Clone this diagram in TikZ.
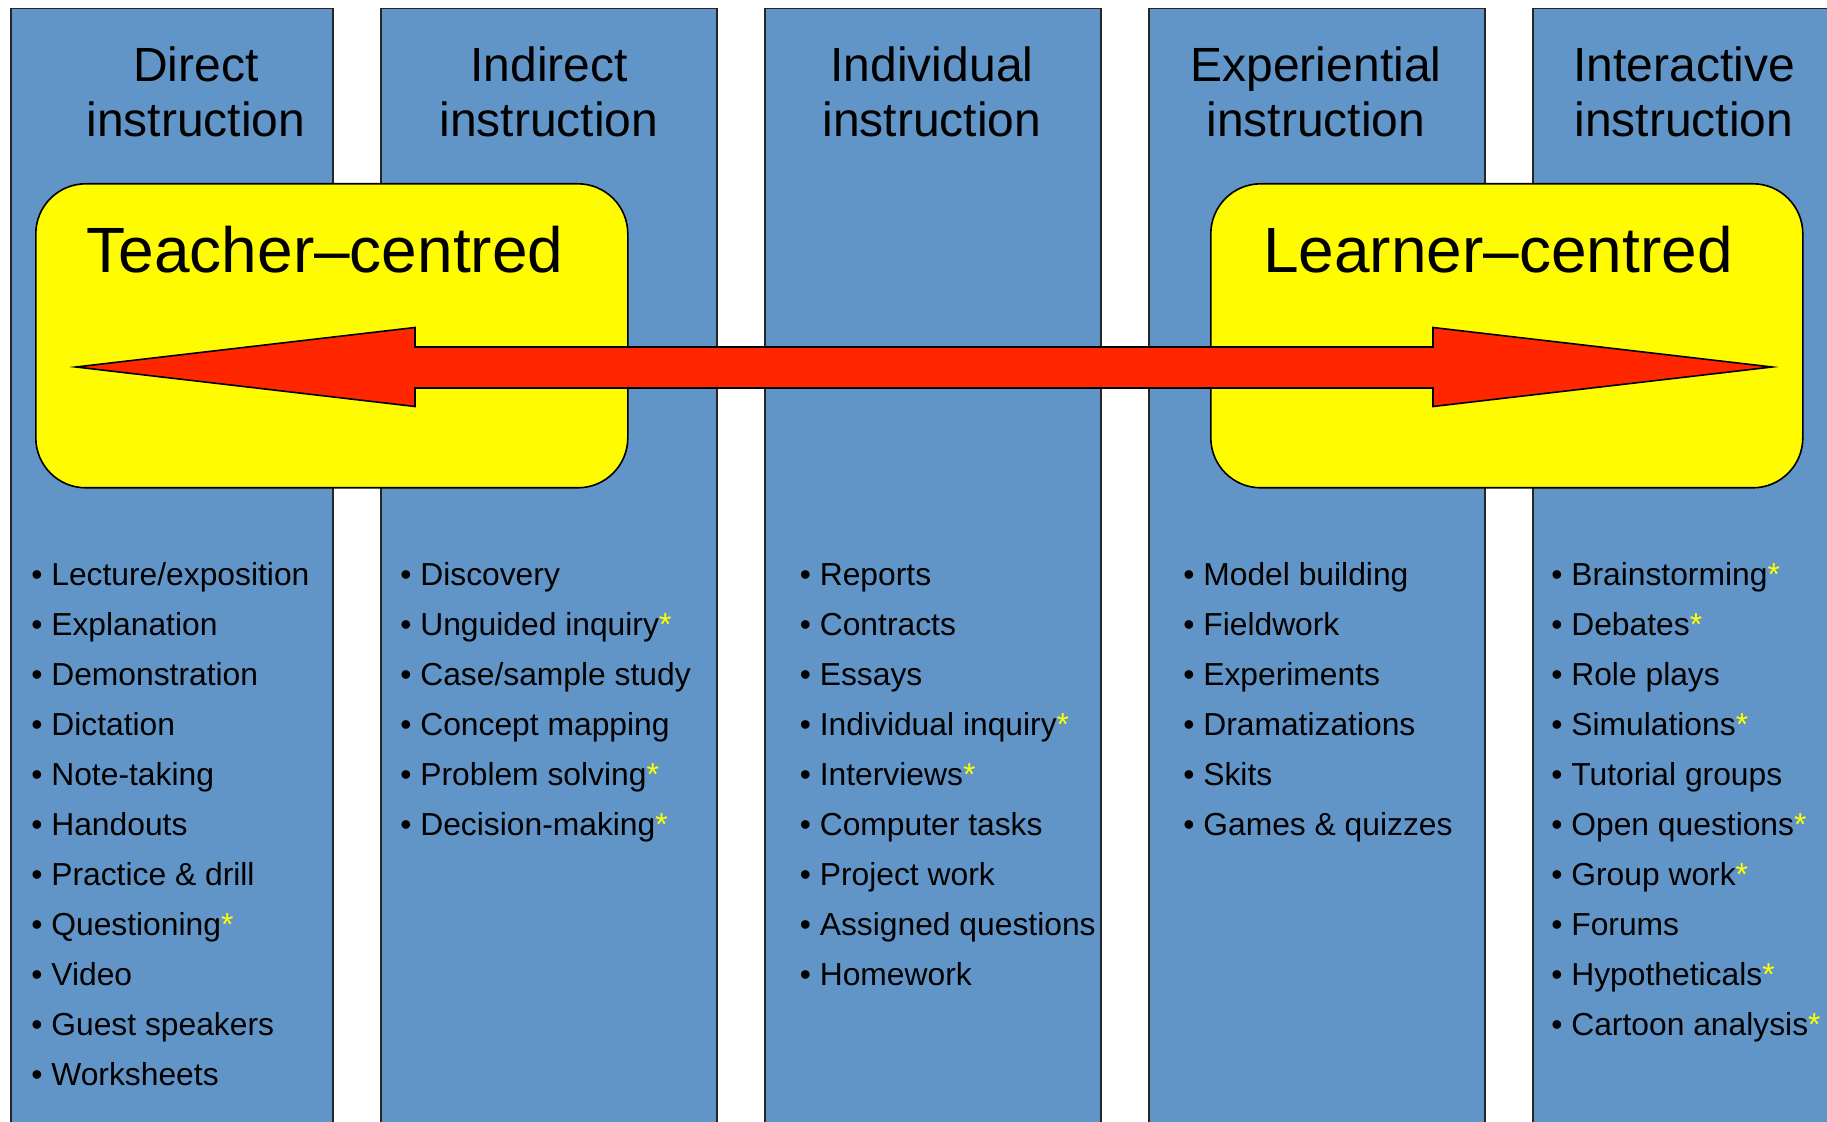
\documentclass[tikz,border=0pt]{standalone}
\usepackage{fontspec}
\setmainfont{Liberation Sans}
\usetikzlibrary{positioning}

\definecolor{colblue}{RGB}{97,149,199}
\definecolor{boxyellow}{RGB}{255,251,0}
\definecolor{arrowred}{RGB}{255,38,0}
\definecolor{staryellow}{RGB}{255,255,0}
\newcommand{\hot}{\textcolor{staryellow}{*}}

\begin{document}
\begin{tikzpicture}[
        x                 = 0.5pt,
        y                 = -0.5pt,
        column/.style     = {draw=black!85, fill=colblue, line width=0.75pt, anchor=north west,
                             inner sep=0pt, minimum width=168pt, minimum height=570pt},
        title/.style      = {align=center, anchor=base, font=\fontsize{24}{27.5}\selectfont},
        centred/.style    = {draw=black, fill=boxyellow, line width=0.8pt, rounded corners=25pt,
                             anchor=north west, inner sep=0pt, minimum width=296pt, minimum height=152pt},
        heading/.style    = {anchor=base, font=\fontsize{32}{36}\selectfont},
        item/.style       = {anchor=base west, inner sep=0pt, font=\fontsize{15.9}{19}\selectfont},
    ]
    \useasboundingbox (0,0) rectangle (1827,1122);
    \clip (0,0) rectangle (1827,1122);

    % the five columns
    \node[column, minimum width=161pt] (direct) at (10,8) {};
    \node[column] (indirect) at (380,8) {};
    \node[column] (individual) at (764,8) {};
    \node[column] (experiential) at (1148,8) {};
    \node[column] (interactive) at (1532,8) {};

    \node[title] (direct-t) at (196,137) {Direct\\instruction};
    \node[title] (indirect-t) at (549,137) {Indirect\\instruction};
    \node[title] (individual-t) at (932,137) {Individual\\instruction};
    \node[title] (experiential-t) at (1316,137) {Experiential\\instruction};
    \node[title] (interactive-t) at (1684,137) {Interactive\\instruction};

    % the two ends of the scale
    \node[centred] (teacher) at (35,183) {};
    \node[centred] (learner) at (1210,183) {};

    \draw[fill=arrowred, line width=0.8pt]
        (76,367) -- (415,327.5) -- (415,347) -- (1433,347) -- (1433,327.5) -- (1772,367)
        -- (1433,406.5) -- (1433,388) -- (415,388) -- (415,406.5) -- cycle;

    \node[heading] (teacher-t) at (325,273) {Teacher–centred};
    \node[heading] (learner-t) at (1498,273) {Learner–centred};

    % methods under each column
    \foreach \txt [count=\k] in {Lecture/exposition, Explanation, Demonstration, Dictation,
            Note-taking, Handouts, Practice \& drill, Questioning\hot, Video, Guest speakers, Worksheets}
        \node[item] (direct-\k) at (31,586+49.9*\k-49.9) {• \txt};

    \foreach \txt [count=\k] in {Discovery, Unguided inquiry\hot, Case/sample study,
            Concept mapping, Problem solving\hot, Decision-making\hot}
        \node[item] (indirect-\k) at (400,586+49.9*\k-49.9) {• \txt};

    \foreach \txt [count=\k] in {Reports, Contracts, Essays, Individual inquiry\hot, Interviews\hot,
            Computer tasks, Project work, Assigned questions, Homework}
        \node[item] (individual-\k) at (799.5,586+49.9*\k-49.9) {• \txt};

    \foreach \txt [count=\k] in {Model building, Fieldwork, Experiments, Dramatizations, Skits,
            Games \& quizzes}
        \node[item] (experiential-\k) at (1183,586+49.9*\k-49.9) {• \txt};

    \foreach \txt [count=\k] in {Brainstorming\hot, Debates\hot, Role plays, Simulations\hot,
            Tutorial groups, Open questions\hot, Group work\hot, Forums, Hypotheticals\hot,
            Cartoon analysis\hot}
        \node[item] (interactive-\k) at (1551,586+49.9*\k-49.9) {• \txt};
\end{tikzpicture}
\end{document}
